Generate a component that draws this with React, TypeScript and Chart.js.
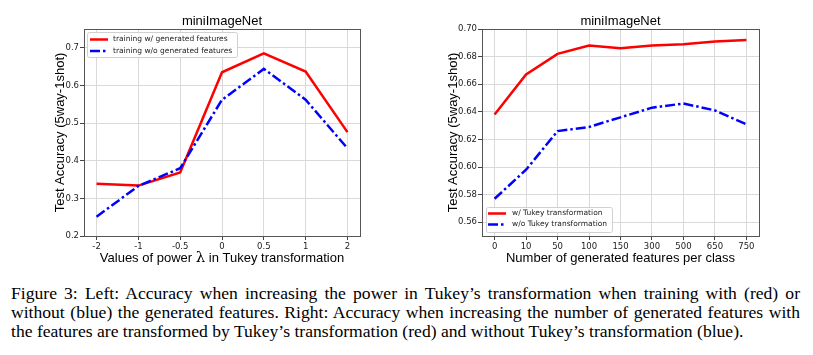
import React, { useEffect, useRef } from "react";
import { Chart, registerables } from "chart.js";

Chart.register(...registerables);

// ---------- data ----------
const leftLabels = ["-2", "-1", "-0.5", "0", "0.5", "1", "2"];
const leftWith = [0.339, 0.334, 0.369, 0.635, 0.685, 0.637, 0.476];
const leftWithout = [0.251, 0.333, 0.38, 0.562, 0.644, 0.562, 0.433];
const leftYTicks = [0.2, 0.3, 0.4, 0.5, 0.6, 0.7];

const rightLabels = ["0", "10", "50", "100", "150", "300", "500", "650", "750"];
const rightWith = [0.638, 0.667, 0.682, 0.688, 0.686, 0.688, 0.689, 0.691, 0.692];
const rightWithout = [0.577, 0.598, 0.626, 0.629, 0.636, 0.643, 0.646, 0.641, 0.631];
const rightYTicks = [0.56, 0.58, 0.6, 0.62, 0.64, 0.66, 0.68, 0.7];

const leftLegend = ["training w/ generated features", "training w/o generated features"];
const rightLegend = ["w/ Tukey transformation", "w/o Tukey transformation"];

const chartTitle = "miniImageNet";
const yTitle = "Test Accuracy (5way-1shot)";
const leftXTitleParts = ["Values of power ", "λ", " in Tukey transformation"];
const rightXTitleParts = ["Number of generated features per class"];

const captionLines = [
  "Figure 3:  Left:  Accuracy when increasing the power in Tukey’s transformation when training with (red) or",
  "without (blue) the generated features. Right: Accuracy when increasing the number of generated features with",
  "the features are transformed by Tukey’s transformation (red) and without Tukey’s transformation (blue).",
];

// ---------- styles ----------
const SANS = '"Liberation Sans", Arial, Helvetica, sans-serif';
const TICKF = '"DejaVu Sans", sans-serif';
const MATHF = '"DejaVu Serif", "Liberation Serif", serif';
const RED = "#ff0000";
const BLUE = "#0000ff";
const DASHDOT = [10, 3, 2.5, 3];

type Params = {
  labels: string[];
  red: number[];
  blue: number[];
  yTicks: number[];
  yMin: number;
  yMax: number;
  xPad: number;
  decimals: number;
  width: number;
  height: number;
  plotLeft: number;
  plotRight: number;
  plotTop: number;
  plotBottom: number;
  xTitleParts: string[];
  yTitleX: number;
  xTitleY: number;
  legendLabels: string[];
  legendBox: { x: number; y: number; w: number; h: number };
  legendRows: number[];
  legendLineX: [number, number];
  legendTextX: number;
};

function makeChart(canvas: HTMLCanvasElement, p: Params) {
  const decor = {
    id: "decor",
    afterDraw(chart: any) {
      const ctx = chart.ctx as CanvasRenderingContext2D;
      const a = chart.chartArea;
      ctx.save();
      // frame
      ctx.setLineDash([]);
      ctx.strokeStyle = "#555";
      ctx.lineWidth = 1;
      ctx.strokeRect(Math.round(a.left) + 0.5, Math.round(a.top) + 0.5, Math.round(a.right - a.left), Math.round(a.bottom - a.top));
      // title
      ctx.fillStyle = "#000";
      ctx.font = `13px ${SANS}`;
      ctx.textAlign = "center";
      ctx.textBaseline = "middle";
      ctx.fillText(chartTitle, (a.left + a.right) / 2, a.top - 8);
      // x title (parts; odd-index parts are math symbols)
      const fonts = p.xTitleParts.map((_, i) => (i % 2 === 1 ? `15px ${MATHF}` : `13px ${SANS}`));
      const widths = p.xTitleParts.map((t, i) => {
        ctx.font = fonts[i];
        return ctx.measureText(t).width;
      });
      const total = widths.reduce((s, w) => s + w, 0);
      let x = (a.left + a.right) / 2 - total / 2;
      ctx.textAlign = "left";
      ctx.textBaseline = "alphabetic";
      p.xTitleParts.forEach((t, i) => {
        ctx.font = fonts[i];
        ctx.fillText(t, x, p.xTitleY + 4.5);
        x += widths[i];
      });
      // y title
      ctx.save();
      ctx.font = `13px ${SANS}`;
      ctx.textAlign = "center";
      ctx.textBaseline = "middle";
      ctx.translate(p.yTitleX, (a.top + a.bottom) / 2);
      ctx.rotate(-Math.PI / 2);
      ctx.fillText(yTitle, 0, 0);
      ctx.restore();
      // legend
      const b = p.legendBox;
      ctx.beginPath();
      const r = 2;
      ctx.moveTo(b.x + r, b.y);
      ctx.arcTo(b.x + b.w, b.y, b.x + b.w, b.y + b.h, r);
      ctx.arcTo(b.x + b.w, b.y + b.h, b.x, b.y + b.h, r);
      ctx.arcTo(b.x, b.y + b.h, b.x, b.y, r);
      ctx.arcTo(b.x, b.y, b.x + b.w, b.y, r);
      ctx.closePath();
      ctx.fillStyle = "rgba(255,255,255,0.85)";
      ctx.fill();
      ctx.strokeStyle = "#d0d0d0";
      ctx.lineWidth = 1;
      ctx.stroke();
      const colors = [RED, BLUE];
      const dashes = [[], DASHDOT];
      p.legendLabels.forEach((lab, i) => {
        const y = p.legendRows[i];
        ctx.strokeStyle = colors[i];
        ctx.lineWidth = 2.5;
        ctx.setLineDash(dashes[i]);
        ctx.beginPath();
        ctx.moveTo(p.legendLineX[0], y);
        ctx.lineTo(p.legendLineX[1], y);
        ctx.stroke();
        ctx.setLineDash([]);
        ctx.fillStyle = "#222";
        ctx.font = `7.5px ${TICKF}`;
        ctx.textAlign = "left";
        ctx.textBaseline = "middle";
        ctx.fillText(lab, p.legendTextX, y);
      });
      ctx.restore();
    },
  };

  const yAxisWidth = p.plotLeft;
  const xAxisHeight = 20;

  return new Chart(canvas, {
    type: "line",
    data: {
      datasets: [
        {
          label: p.legendLabels[0],
          data: p.red.map((y, i) => ({ x: i, y })),
          borderColor: RED,
          borderWidth: 2.5,
          pointRadius: 0,
          tension: 0,
          fill: false,
          order: 1,
        },
        {
          label: p.legendLabels[1],
          data: p.blue.map((y, i) => ({ x: i, y })),
          borderColor: BLUE,
          borderWidth: 2.5,
          borderDash: DASHDOT,
          pointRadius: 0,
          tension: 0,
          fill: false,
          order: 0,
        },
      ],
    },
    options: {
      animation: false,
      responsive: false,
      maintainAspectRatio: false,
      devicePixelRatio: 1,
      layout: {
        padding: {
          left: 0,
          top: p.plotTop,
          right: p.width - p.plotRight,
          bottom: p.height - p.plotBottom - xAxisHeight,
        },
      },
      plugins: {
        legend: { display: false },
        tooltip: { enabled: false },
        title: { display: false },
      },
      scales: {
        x: {
          type: "linear",
          min: -p.xPad,
          max: p.labels.length - 1 + p.xPad,
          afterBuildTicks: (s: any) => {
            s.ticks = p.labels.map((_, i) => ({ value: i }));
          },
          afterFit: (s: any) => {
            s.height = xAxisHeight;
          },
          ticks: {
            autoSkip: false,
            maxRotation: 0,
            minRotation: 0,
            padding: 2,
            color: "#222",
            font: { family: TICKF, size: 8.5 },
            callback: (v: any) => p.labels[Math.round(Number(v))] ?? "",
          },
          grid: { color: "#d9d9d9", lineWidth: 1, drawTicks: true, tickLength: 4, tickColor: "#444", tickWidth: 1 },
          border: { display: false },
        },
        y: {
          type: "linear",
          min: p.yMin,
          max: p.yMax,
          afterBuildTicks: (s: any) => {
            s.ticks = p.yTicks.map((v) => ({ value: v }));
          },
          afterFit: (s: any) => {
            s.width = yAxisWidth;
          },
          ticks: {
            padding: 1,
            color: "#222",
            font: { family: TICKF, size: 8.5 },
            callback: (v: any) => Number(v).toFixed(p.decimals),
          },
          grid: { color: "#d9d9d9", lineWidth: 1, drawTicks: true, tickLength: 4, tickColor: "#444", tickWidth: 1 },
          border: { display: false },
        },
      },
    },
    plugins: [decor as any],
  } as any);
}

const LEFT_W = 406;
const RIGHT_X = 406;
const RIGHT_W = 407;
const H = 270;

function LeftChart() {
  const ref = useRef<HTMLCanvasElement>(null);
  useEffect(() => {
    if (!ref.current) return;
    const c = makeChart(ref.current, {
      labels: leftLabels,
      red: leftWith,
      blue: leftWithout,
      yTicks: leftYTicks,
      yMin: 0.2,
      yMax: 0.75,
      xPad: 0.3,
      decimals: 1,
      width: LEFT_W,
      height: H,
      plotLeft: 84,
      plotRight: 360,
      plotTop: 29,
      plotBottom: 236,
      xTitleParts: leftXTitleParts,
      yTitleX: 60,
      xTitleY: 257,
      legendLabels: leftLegend,
      legendBox: { x: 87.5, y: 32.5, w: 150, h: 25 },
      legendRows: [39.5, 51],
      legendLineX: [90, 108],
      legendTextX: 113,
    });
    return () => c.destroy();
  }, []);
  return (
    <canvas
      ref={ref}
      width={LEFT_W}
      height={H}
      style={{ position: "absolute", left: 0, top: 0, width: LEFT_W, height: H }}
    />
  );
}

function RightChart() {
  const ref = useRef<HTMLCanvasElement>(null);
  useEffect(() => {
    if (!ref.current) return;
    const c = makeChart(ref.current, {
      labels: rightLabels,
      red: rightWith,
      blue: rightWithout,
      yTicks: rightYTicks,
      yMin: 0.55,
      yMax: 0.7,
      xPad: 0.4,
      decimals: 2,
      width: RIGHT_W,
      height: H,
      plotLeft: 482 - RIGHT_X,
      plotRight: 759 - RIGHT_X,
      plotTop: 29,
      plotBottom: 236,
      xTitleParts: rightXTitleParts,
      yTitleX: 453 - RIGHT_X,
      xTitleY: 257,
      legendLabels: rightLegend,
      legendBox: { x: 486.5 - RIGHT_X, y: 207.5, w: 126, h: 25 },
      legendRows: [213.5, 224.5],
      legendLineX: [488 - RIGHT_X, 506 - RIGHT_X],
      legendTextX: 512 - RIGHT_X,
    });
    return () => c.destroy();
  }, []);
  return (
    <canvas
      ref={ref}
      width={RIGHT_W}
      height={H}
      style={{ position: "absolute", left: RIGHT_X, top: 0, width: RIGHT_W, height: H }}
    />
  );
}

export default function App() {
  return (
    <div style={{ position: "absolute", left: 0, top: 0, width: 813, height: 355, background: "#fff", overflow: "hidden" }}>
      <LeftChart />
      <RightChart />
      <div
        style={{
          position: "absolute",
          left: 11,
          top: 284,
          width: 789,
          fontFamily: '"Liberation Serif", "Times New Roman", serif',
          fontSize: 17.6,
          lineHeight: "19px",
          color: "#000",
        }}
      >
        {captionLines.map((line, i) => (
          <div
            key={i}
            style={{
              textAlign: "justify",
              textAlignLast: i < captionLines.length - 1 ? "justify" : "left",
              whiteSpace: "nowrap",
            }}
          >
            {line}
          </div>
        ))}
      </div>
    </div>
  );
}
